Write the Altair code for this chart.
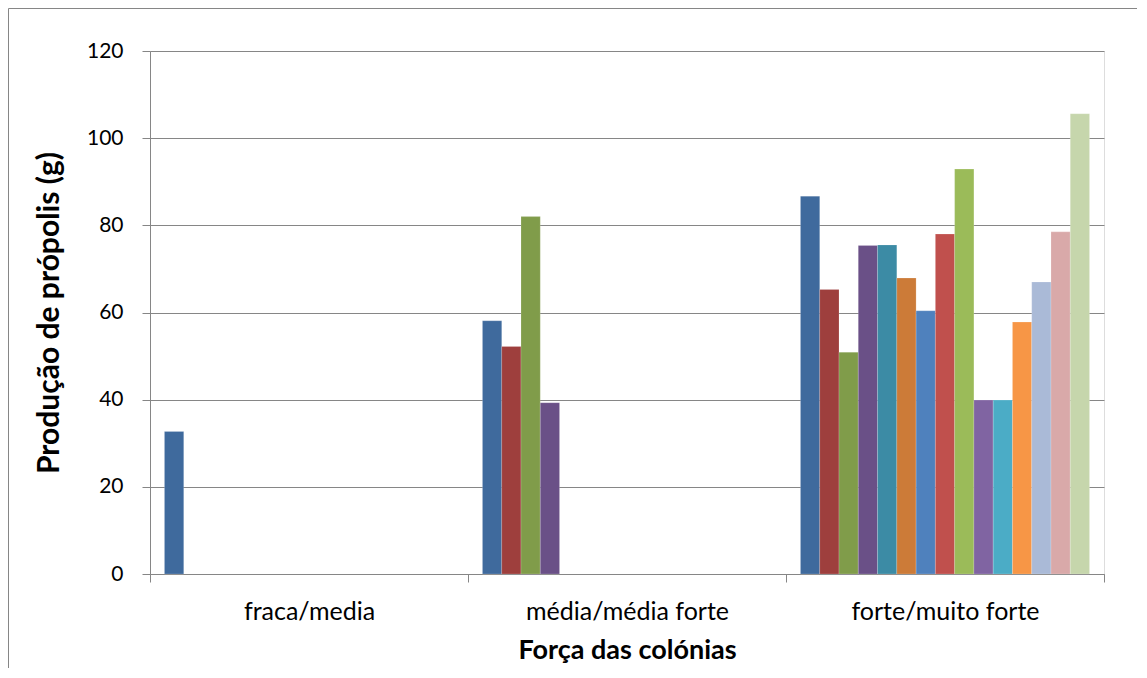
import altair as alt
import pandas as pd

categories = ["fraca/media", "média/média forte", "forte/muito forte"]
series = [f"S{i}" for i in range(1, 16)]
vals_fraca = [32.7]
vals_media = [58.1, 52.2, 82.0, 39.3]
vals_forte = [86.7, 65.3, 50.9, 75.4, 75.5, 67.9, 60.4, 78.0, 92.9, 39.9, 39.9, 57.8, 67.0, 78.5, 105.6]
colors = ["#3F6A9D", "#9E3F3D", "#809C4A", "#6A5087", "#3C8BA5", "#CC7B38", "#4F81BD",
          "#C0504D", "#9BBB59", "#8064A2", "#4BACC6", "#F79646", "#AABAD7", "#D9A9A9", "#C6D6AC"]

rows = []
for cat, vals in zip(categories, [vals_fraca, vals_media, vals_forte]):
    for s, v in zip(series, vals):
        rows.append({"cat": cat, "serie": s, "valor": v})
df = pd.DataFrame(rows)

FONT = "Lato"
W, H = 954, 523

bars = alt.Chart(df).mark_bar(stroke="#FFFFFF", strokeOpacity=0.35, strokeWidth=0.5).encode(
    x=alt.X("cat:N", sort=categories,
            scale=alt.Scale(domain=categories, paddingInner=0, paddingOuter=0),
            axis=alt.Axis(title="Força das colónias", labelAngle=0, tickBand="extent",
                          domainColor="#868686", tickColor="#868686", tickSize=8,
                          labelFont=FONT, labelFontSize=25, labelColor="#000000", labelPadding=17,
                          labelLimit=0,
                          titleFont=FONT, titleFontSize=27, titleFontWeight="bold",
                          titleColor="#000000", titlePadding=13, grid=False)),
    xOffset=alt.XOffset("serie:N", sort=series,
                        scale=alt.Scale(domain=series, paddingInner=0, paddingOuter=0.75)),
    y=alt.Y("valor:Q",
            scale=alt.Scale(domain=[0, 120], nice=False),
            axis=alt.Axis(title="Produção de própolis (g)", values=[0, 20, 40, 60, 80, 100, 120],
                          domainColor="#868686", tickColor="#868686", tickSize=8,
                          gridColor="#868686", gridWidth=1,
                          labelFont=FONT, labelFontSize=21, labelColor="#000000", labelPadding=19,
                          titleFont=FONT, titleFontSize=30, titleFontWeight="bold",
                          titleColor="#000000", titlePadding=22)),
    color=alt.Color("serie:N", sort=series, scale=alt.Scale(domain=series, range=colors), legend=None),
)

frame = alt.Chart(pd.DataFrame({"a": [0]})).mark_rect(
    fill=None, stroke="#868686", strokeWidth=1, clip=False
).encode(
    x=alt.value(-141.5), x2=alt.value(987.5), y=alt.value(-42.5), y2=alt.value(617.5)
)

chart = alt.layer(frame, bars).properties(
    width=W, height=H,
    padding={"left": 142, "top": 43, "right": 33, "bottom": 94},
    autosize=alt.AutoSizeParams(type="none"),
).configure_view(stroke=None).configure(background="#FFFFFF")

chart.save("out.html", embed_options={"renderer": "svg", "actions": False})
